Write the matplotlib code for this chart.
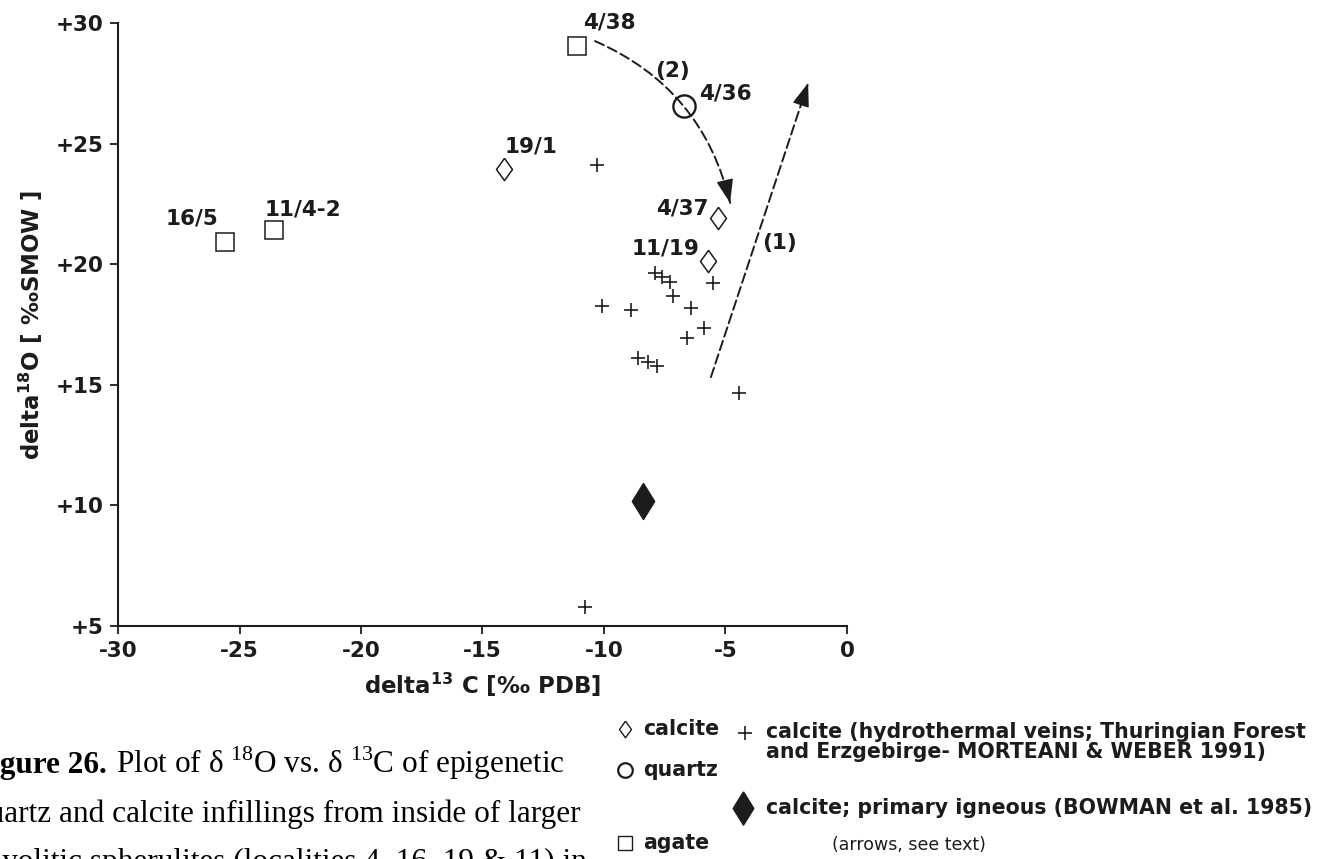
import numpy as np
import matplotlib.pyplot as plt
from matplotlib.lines import Line2D
from matplotlib.patches import FancyArrowPatch

plt.rcParams['font.family'] = ['DejaVu Sans']
plt.rcParams['font.weight'] = 'bold'
plt.rcParams['mathtext.fontset'] = 'custom'
plt.rcParams['mathtext.rm'] = 'Liberation Serif:weight=normal'
plt.rcParams['mathtext.sf'] = 'DejaVu Sans:weight=bold'

ink = '#1c1c1c'

# agate (open squares)
agate_c = [-25.6, -23.6, -11.1]
agate_o = [20.9, 21.4, 29.05]
agate_lab = ['16/5', '11/4-2', '4/38']

# quartz (open circle)
quartz_c = [-6.7]
quartz_o = [26.55]
quartz_lab = ['4/36']

# calcite (open diamonds)
calc_c = [-14.1, -5.3, -5.7]
calc_o = [23.95, 21.9, 20.15]
calc_lab = ['19/1', '4/37', '11/19']

# calcite, hydrothermal veins (MORTEANI & WEBER 1991)
vein_c = [-10.3, -7.9, -7.6, -7.3, -7.15, -5.5, -10.1, -8.9, -6.4, -5.9,
          -6.6, -8.6, -8.2, -7.8, -4.45, -10.8]
vein_o = [24.1, 19.65, 19.45, 19.25, 18.7, 19.2, 18.25, 18.1, 18.2, 17.35,
          16.95, 16.1, 15.95, 15.8, 14.65, 5.8]

# calcite, primary igneous (BOWMAN et al. 1985)
igneous_c = [-8.4]
igneous_o = [10.2]

# trend arrows: (start, end) in delta13C / delta18O
trend1 = [(-5.6, 15.32), (-1.6, 27.51)]
trend2 = [(-10.37, 29.25), (-4.81, 22.54)]

xticks = [-30, -25, -20, -15, -10, -5, 0]
xticklabels = ['-30', '-25', '-20', '-15', '-10', '-5', '0']
yticks = [5, 10, 15, 20, 25, 30]
yticklabels = ['+5', '+10', '+15', '+20', '+25', '+30']

# label offsets (points) for the sample numbers
lab_off = {'16/5': (-24, 17), '11/4-2': (21, 15), '4/38': (23, 17),
           '4/36': (30, 9), '19/1': (19, 16), '4/37': (-26, 7),
           '11/19': (-31, 9)}

W, H = 1333, 859
fig = plt.figure(figsize=(W / 100, H / 100), dpi=100)
ax = fig.add_axes([118 / W, 1 - 626 / H, 729 / W, 603 / H])
ax.set_xlim(-30, 0)
ax.set_ylim(5, 30)


def px(x, y):
    return x / W, 1 - y / H


thin_diamond = [(0, 1), (0.72, 0), (0, -1), (-0.72, 0), (0, 1)]
fat_diamond = [(0, 1), (0.62, 0), (0, -1), (-0.62, 0), (0, 1)]

ax.plot(agate_c, agate_o, ls='', marker='s', ms=13.5, mfc='white', mec=ink, mew=1.1)
ax.plot(quartz_c, quartz_o, ls='', marker='o', ms=16, mfc='none', mec=ink, mew=1.7)
ax.plot(calc_c, calc_o, ls='', marker=thin_diamond, ms=16, mfc='white', mec=ink, mew=1.1)
ax.plot(vein_c, vein_o, ls='', marker='+', ms=9.5, mec=ink, mew=1.2)
ax.plot(igneous_c, igneous_o, ls='', marker=fat_diamond, ms=26, mfc=ink, mec=ink)

for cs, os_, labs in [(agate_c, agate_o, agate_lab), (quartz_c, quartz_o, quartz_lab),
                      (calc_c, calc_o, calc_lab)]:
    for c, o, t in zip(cs, os_, labs):
        ax.annotate(t, (c, o), xytext=lab_off[t], textcoords='offset points',
                    ha='center', va='center', fontsize=15.5, color=ink)


def dashed_arrow(start, end, rad=0.0):
    # dashed shaft, then a solid head laid along the tangent at the end
    ax.add_patch(FancyArrowPatch(start, end, connectionstyle=f'arc3,rad={rad}',
                                 arrowstyle='-', lw=1.4, ls=(0, (5, 2.3)),
                                 color=ink, shrinkA=0, shrinkB=0))
    p1, p2 = ax.transData.transform([start, end])
    d = p2 - p1
    ctrl = (p1 + p2) / 2 + rad * np.array([d[1], -d[0]])
    tang = p2 - ctrl
    tang = tang / np.hypot(*tang)
    back = ax.transData.inverted().transform(p2 - 22 * tang)
    ax.add_patch(FancyArrowPatch(tuple(back), end,
                                 arrowstyle='-|>,head_length=0.72,head_width=0.26',
                                 mutation_scale=20, lw=1.2, color=ink,
                                 shrinkA=0, shrinkB=0))


dashed_arrow(trend2[0], trend2[1], rad=-0.25)
dashed_arrow(trend1[0], trend1[1])
ax.text(-7.2, 28.0, '(2)', ha='center', va='center', fontsize=15.5, color=ink)
ax.text(-2.76, 20.88, '(1)', ha='center', va='center', fontsize=15.5, color=ink)

ax.set_xticks(xticks)
ax.set_xticklabels(xticklabels)
ax.set_yticks(yticks)
ax.set_yticklabels(yticklabels)
ax.tick_params(direction='out', length=5.5, width=1.3, color=ink, labelcolor=ink,
               labelsize=15.5, pad=5)
for s in ['top', 'right']:
    ax.spines[s].set_visible(False)
for s in ['left', 'bottom']:
    ax.spines[s].set_linewidth(1.5)
    ax.spines[s].set_color(ink)

ax.set_xlabel(r'delta$^{\mathsf{13}}$ C [‰ PDB]', fontsize=16.5, fontweight='bold', color=ink)
ax.set_ylabel(r'delta$^{\mathsf{18}}$O [ ‰SMOW ]', fontsize=16.5, fontweight='bold', color=ink)
ax.xaxis.set_label_coords(0.5, -0.075)
ax.yaxis.set_label_coords(-0.10, 0.5)

# symbol key
key_fs = 14.8
fig.add_artist(Line2D(*zip(px(625, 729)), transform=fig.transFigure, marker=thin_diamond,
                      ms=12, mfc='white', mec=ink, mew=1.0, ls=''))
fig.add_artist(Line2D(*zip(px(625, 770)), transform=fig.transFigure, marker='o',
                      ms=10.5, mfc='white', mec=ink, mew=1.6, ls=''))
fig.add_artist(Line2D(*zip(px(625, 843)), transform=fig.transFigure, marker='s',
                      ms=9.5, mfc='white', mec=ink, mew=1.0, ls=''))
fig.add_artist(Line2D(*zip(px(745, 733)), transform=fig.transFigure, marker='+',
                      ms=9.5, mec=ink, mew=1.2, ls=''))
fig.add_artist(Line2D(*zip(px(743, 808)), transform=fig.transFigure, marker=fat_diamond,
                      ms=24, mfc=ink, mec=ink, ls=''))

fig.text(*px(643, 729), 'calcite', fontsize=key_fs, color=ink, va='center')
fig.text(*px(643, 770), 'quartz', fontsize=key_fs, color=ink, va='center')
fig.text(*px(643, 843), 'agate', fontsize=key_fs, color=ink, va='center')
fig.text(*px(766, 742), 'calcite (hydrothermal veins; Thuringian Forest\n'
         'and Erzgebirge- MORTEANI & WEBER 1991)', fontsize=key_fs, color=ink,
         va='center', linespacing=1.0)
fig.text(*px(766, 808), 'calcite; primary igneous (BOWMAN et al. 1985)',
         fontsize=key_fs, color=ink, va='center')
fig.text(*px(832, 845), '(arrows, see text)', fontsize=12.5, fontweight='normal',
         color=ink, va='center')

# caption
cap = dict(family='Liberation Serif', fontsize=22.5, color='black', va='baseline')
fig.text(*px(107, 773), 'Figure 26.', ha='right', fontweight='bold', **cap)
fig.text(*px(116, 773), r'Plot of δ $^{18}$O vs. δ $^{13}$C of epigenetic',
         ha='left', fontweight='normal', **cap)
fig.text(*px(-27, 822), 'quartz and calcite infillings from inside of larger',
         ha='left', fontweight='normal', **cap)
fig.text(*px(-24, 870), 'rhyolitic spherulites (localities 4, 16, 19 & 11) in',
         ha='left', fontweight='normal', **cap)

fig.savefig('out.png', dpi=100, facecolor='white')
